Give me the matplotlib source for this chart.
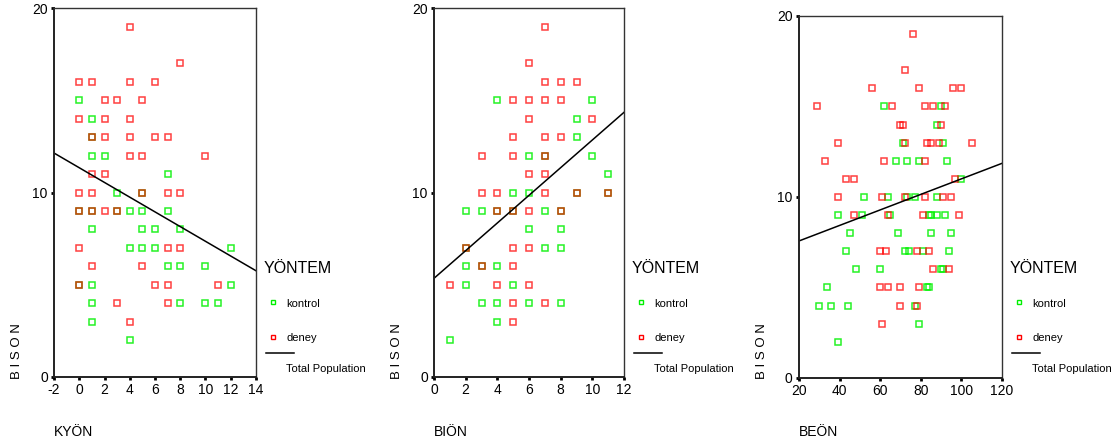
import matplotlib
matplotlib.use('Agg')
import numpy as np
import matplotlib.pyplot as plt
from matplotlib.lines import Line2D

plt.rcParams['font.family'] = ['Liberation Sans Narrow', 'Liberation Sans', 'DejaVu Sans']
plt.rcParams['axes.unicode_minus'] = False

# KYON panel
k1_x = [0,1,1,1,2,7,3,5,0,1,3,4,5,7,1,5,6,8,4,5,6,12,7,8,10,0,1,12,1,8,10,11,1,4]
k1_y = [15,14,13,12,12,11,10,10,9,9,9,9,9,9,8,8,8,8,7,7,7,7,6,6,6,5,5,5,4,4,4,4,3,2]
d1_x = [4,8,0,1,4,6,2,3,5,0,2,4,1,2,4,6,7,4,5,10,1,2,0,1,5,7,8,0,1,2,3,0,7,8,1,5,0,6,7,11,3,7,4]
d1_y = [19,17,16,16,16,16,15,15,15,14,14,14,13,13,13,13,13,12,12,12,11,11,10,10,10,10,10,9,9,9,9,7,7,7,6,6,5,5,5,5,4,4,3]
fit1 = [12.14, 5.76]

# BIÖN panel
k2_x = [4,10,9,9,6,7,10,11,5,6,9,11,2,3,4,5,7,8,6,8,2,7,8,2,3,4,2,5,3,4,6,8,4,1]
k2_y = [15,15,14,13,12,12,12,11,10,10,10,10,9,9,9,9,9,9,8,8,7,7,7,6,6,6,5,5,4,4,4,4,3,2]
d2_x = [7,6,7,8,9,5,6,7,8,6,10,5,7,8,3,5,7,6,7,3,4,7,9,11,4,5,6,8,2,5,6,3,5,1,4,6,5,7,5]
d2_y = [19,17,16,16,16,15,15,15,15,14,14,13,13,13,12,12,12,11,11,10,10,10,10,10,9,9,9,9,7,7,7,6,6,5,5,5,4,4,3]
fit2 = [5.35, 14.35]

# BEÖN panel
k3_x = [62,90,88,71,91,68,73,79,93,100,52,64,73,77,88,39,51,65,84,85,88,92,45,69,85,95,
        43,72,74,81,94,48,60,90,91,34,83,84,30,36,44,77,79,39]
k3_y = [15,15,14,13,13,12,12,12,12,11,10,10,10,10,10,9,9,9,9,9,9,9,8,8,8,8,
        7,7,7,7,7,6,6,6,6,5,5,5,4,4,4,4,3,2]
d3_x = [76,72,56,79,96,100,29,66,82,86,92,70,71,90,39,72,83,85,89,105,33,62,82,43,47,97,
        39,61,72,82,91,95,47,64,81,99,60,63,78,84,86,94,60,64,70,79,70,78,61]
d3_y = [19,17,16,16,16,16,15,15,15,15,15,14,14,14,13,13,13,13,13,13,12,12,12,11,11,11,
        10,10,10,10,10,10,9,9,9,9,7,7,7,7,6,6,5,5,5,5,4,4,3]
fit3 = [7.57, 11.86]

panels = [
    (k1_x, k1_y, d1_x, d1_y, fit1, (-2, 14), np.arange(-2, 15, 2), 'KYÖN'),
    (k2_x, k2_y, d2_x, d2_y, fit2, (0, 12), np.arange(0, 13, 2), 'BIÖN'),
    (k3_x, k3_y, d3_x, d3_y, fit3, (20, 120), np.arange(20, 121, 20), 'BEÖN'),
]
boxes = [[0.0486, 0.1585, 0.1816, 0.8235],
         [0.3903, 0.1585, 0.1709, 0.8235],
         [0.7185, 0.1563, 0.1826, 0.8080]]
green = '#00f000'
red = '#ff0000'

fig = plt.figure(figsize=(11.12, 4.48), dpi=100)

for (kx, ky, dx, dy, fit, xl, xt, name), box in zip(panels, boxes):
    ax = fig.add_axes(box)
    ax.plot(kx, ky, 's', ms=3.8, mfc='none', mec=green, mew=1.1, alpha=0.85, clip_on=False)
    ax.plot(dx, dy, 's', ms=3.8, mfc='none', mec=red, mew=1.1, alpha=0.75, clip_on=False)
    ax.plot(xl, fit, color='black', lw=1.1)
    ax.set_xlim(xl)
    ax.set_ylim(0, 20)
    ax.set_xticks(xt)
    ax.set_yticks([0, 10, 20])
    ax.tick_params(direction='out', length=2.5, width=2, labelsize=10, pad=2)
    for s in ['left', 'bottom']:
        ax.spines[s].set_linewidth(1.4)
        ax.spines[s].set_color('#222222')
    for s in ['top', 'right']:
        ax.spines[s].set_linewidth(1.0)
        ax.spines[s].set_color('#333333')

    x0 = box[0]
    x1 = box[0] + box[2]
    # axis titles
    fig.text(x0 - 0.033, 0.155, 'B I S O N', rotation=90, fontsize=9.5,
             ha='center', va='bottom')
    fig.text(x0 + 0.0, 0.035, name, fontsize=10, ha='left', va='center')

    # legend
    lx = x1 + 0.007
    fig.text(lx, 0.40, 'YÖNTEM', fontsize=11.5, ha='left', va='center')
    fig.add_artist(Line2D([lx + 0.008], [0.325], marker='s', ms=3, mfc='none',
                          mec=green, mew=1, transform=fig.transFigure))
    fig.text(lx + 0.02, 0.322, 'kontrol', fontsize=8, ha='left', va='center')
    fig.add_artist(Line2D([lx + 0.008], [0.248], marker='s', ms=3, mfc='none',
                          mec=red, mew=1, transform=fig.transFigure))
    fig.text(lx + 0.02, 0.245, 'deney', fontsize=8, ha='left', va='center')
    fig.add_artist(Line2D([lx + 0.002, lx + 0.027], [0.212, 0.212], color='black',
                          lw=1.1, transform=fig.transFigure))
    fig.text(lx + 0.02, 0.176, 'Total Population', fontsize=8, ha='left', va='center')

fig.savefig('out.png', dpi=100)
